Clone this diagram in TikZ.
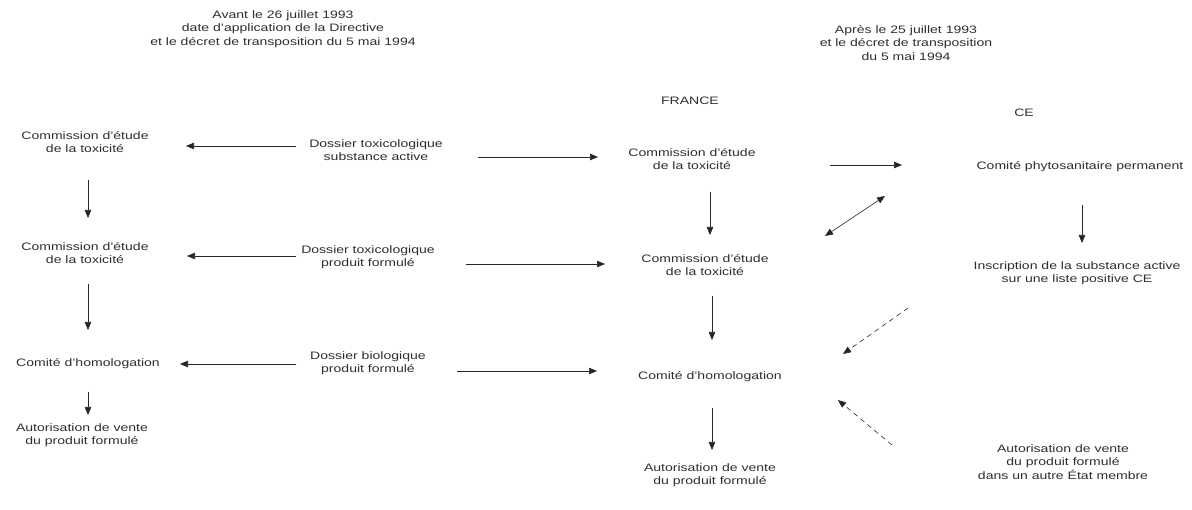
\documentclass[tikz,border=0pt]{standalone}
\usepackage{fontspec}
\setmainfont[FakeStretch=1.3]{Liberation Sans}
\usetikzlibrary{arrows.meta}
\begin{document}
\begin{tikzpicture}[x=1pt,y=-1pt,
  txt/.style={align=center,inner sep=0pt,text=black!82,font=\fontsize{10.8}{13.5}\selectfont},
  arr/.style={draw=black!85,line width=0.6pt,-{Triangle[length=8pt,width=6.5pt]}},
  darr/.style={arr,dash pattern=on 5pt off 4pt},
  barr/.style={draw=black!85,line width=0.6pt,{Triangle[length=8pt,width=6.5pt]}-{Triangle[length=8pt,width=6.5pt]}}]
\useasboundingbox (0,0) rectangle (1192,510);
% titles
\node[txt] (T1) at (283,29) {Avant le 26 juillet 1993\\date d'application de la Directive\\et le décret de transposition du 5 mai 1994};
\node[txt] (T2) at (906,43) {Après le 25 juillet 1993\\et le décret de transposition\\du 5 mai 1994};
\node[txt] (FR) at (690,101) {FRANCE};
\node[txt] (CE) at (1024,113) {CE};
% left column
\node[txt] (L1) at (85,142) {Commission d'étude\\de la toxicité};
\node[txt] (L2) at (85,253) {Commission d'étude\\de la toxicité};
\node[txt] (L3) at (88,364) {Comité d'homologation};
\node[txt] (L4) at (82,435) {Autorisation de vente\\du produit formulé};
% dossiers
\node[txt] (D1) at (376,150) {Dossier toxicologique\\substance active};
\node[txt] (D2) at (368,257) {Dossier toxicologique\\produit formulé};
\node[txt] (D3) at (368,363) {Dossier biologique\\produit formulé};
% France column
\node[txt] (F1) at (692,159) {Commission d'étude\\de la toxicité};
\node[txt] (F2) at (705,265) {Commission d'étude\\de la toxicité};
\node[txt] (F3) at (710,377) {Comité d'homologation};
\node[txt] (F4) at (710,475) {Autorisation de vente\\du produit formulé};
% CE column
\node[txt] (CP) at (1080,167) {Comité phytosanitaire permanent};
\node[txt] (IN) at (1077,273) {Inscription de la substance active\\sur une liste positive CE};
\node[txt] (AU) at (1063,462) {Autorisation de vente\\du produit formulé\\dans un autre État membre};
% arrows
\draw[arr] ([shift={(-80,-4)}]D1.center) -- ([shift={(101,4)}]L1.center);
\draw[arr] ([shift={(102,7)}]D1.center) -- ([shift={(-94,-2)}]F1.center);
\draw[arr] ([shift={(138,6)}]F1.center) -- ([shift={(-178,-2)}]CP.center);
\draw[arr] ([shift={(3,38)}]L1.center) -- ([shift={(3,-35)}]L2.center);
\draw[arr] ([shift={(18,33)}]F1.center) -- ([shift={(5,-30)}]F2.center);
\draw[arr] ([shift={(2,38)}]CP.center) -- ([shift={(5,-30)}]IN.center);
\draw[barr] ([shift={(-195,29)}]CP.center) -- ([shift={(120,-29)}]F2.center);
\draw[arr] ([shift={(-72,-1)}]D2.center) -- ([shift={(102,3)}]L2.center);
\draw[arr] ([shift={(98,7)}]D2.center) -- ([shift={(-100,-1)}]F2.center);
\draw[arr] ([shift={(3,31)}]L2.center) -- ([shift={(0,-34)}]L3.center);
\draw[arr] ([shift={(7,31)}]F2.center) -- ([shift={(2,-37)}]F3.center);
\draw[darr] ([shift={(-169,35)}]IN.center) -- ([shift={(133,-23)}]F3.center);
\draw[arr] ([shift={(-72,1)}]D3.center) -- ([shift={(92,0)}]L3.center);
\draw[arr] ([shift={(89,8)}]D3.center) -- ([shift={(-113,-6)}]F3.center);
\draw[arr] ([shift={(0,28)}]L3.center) -- ([shift={(6,-20)}]L4.center);
\draw[arr] ([shift={(2,31)}]F3.center) -- ([shift={(2,-25)}]F4.center);
\draw[darr] ([shift={(-171,-17)}]AU.center) -- ([shift={(128,23)}]F3.center);
\end{tikzpicture}
\end{document}
